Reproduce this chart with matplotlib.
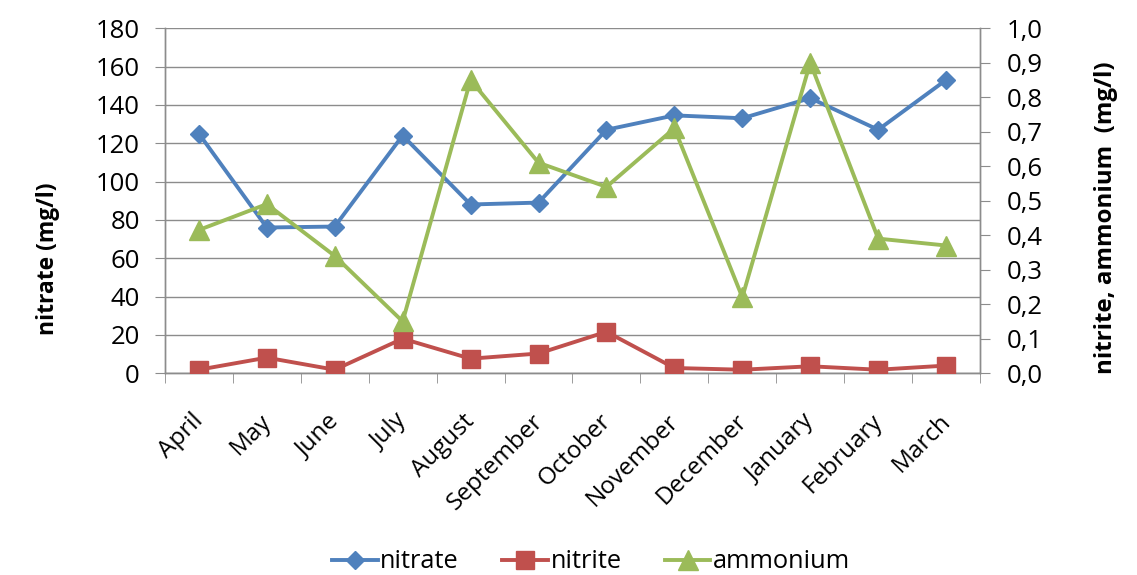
import matplotlib
matplotlib.use("Agg")
import matplotlib.pyplot as plt
from matplotlib.ticker import FixedLocator, FuncFormatter
from matplotlib.transforms import offset_copy
import numpy as np

months = ["April", "May", "June", "July", "August", "September", "October",
          "November", "December", "January", "February", "March"]
nitrate = [125, 76, 76.5, 124, 88, 89, 127, 134.5, 133, 143.5, 127, 153]
nitrite = [0.01, 0.045, 0.01, 0.10, 0.042, 0.057, 0.12, 0.015, 0.01, 0.02, 0.01, 0.022]
ammonium = [0.415, 0.49, 0.34, 0.15, 0.85, 0.61, 0.54, 0.71, 0.22, 0.90, 0.39, 0.37]

plt.rcParams['font.family'] = ['Open Sans', 'DejaVu Sans']

BLUE = "#4F81BD"
RED = "#C0504D"
GREEN = "#9BBB59"
GRID = "#8C8C8C"

fig = plt.figure(figsize=(11.37, 5.75), dpi=100)
ax = fig.add_axes([0.145, 0.351, 0.717, 0.600])
ax2 = ax.twinx()

x = np.arange(len(months))
l1, = ax.plot(x, nitrate, color=BLUE, lw=2.8, marker="D", ms=9.5, label="nitrate", zorder=3)
l2, = ax2.plot(x, nitrite, color=RED, lw=2.8, marker="s", ms=12.5, label="nitrite", zorder=3)
l3, = ax2.plot(x, ammonium, color=GREEN, lw=2.8, marker="^", ms=14, label="ammonium", zorder=4)

ax.set_xlim(-0.5, len(months) - 0.5)
ax.set_ylim(0, 180)
ax.set_yticks(np.arange(0, 181, 20))
ax2.set_ylim(0, 1.0)
ax2.set_yticks(np.arange(0, 1.01, 0.1))
ax2.yaxis.set_major_formatter(FuncFormatter(lambda v, p: f"{v:.1f}".replace(".", ",")))

ax.yaxis.grid(True, color=GRID, lw=1)
ax.set_axisbelow(True)

ax.set_xticks(x)
ax.set_xticklabels([])
ax.xaxis.set_minor_locator(FixedLocator(np.arange(-0.5, len(months), 1)))
ax.tick_params(axis="x", which="major", length=0)
ax.tick_params(axis="x", which="minor", length=7, color=GRID, direction="out")
ax.tick_params(axis="y", length=7, color=GRID, labelsize=18.5, pad=11)
ax2.tick_params(axis="y", length=7, color=GRID, labelsize=18.5, pad=12)

# month labels, rotated 45 degrees
trans = offset_copy(ax.get_xaxis_transform(), fig=fig, x=-5.5, y=-26, units="points")
for i, m in enumerate(months):
    ax.text(i, 0, m, transform=trans, rotation=45, rotation_mode="anchor",
            ha="right", va="top", fontsize=17.5)

for a in (ax, ax2):
    a.spines["top"].set_visible(False)
    for s in ("left", "right", "bottom"):
        a.spines[s].set_color(GRID)
        a.spines[s].set_linewidth(1)

ax.set_ylabel("nitrate (mg/l)", fontsize=16.5, fontweight="bold", va="center")
ax.yaxis.set_label_coords(-0.1436, 0.333)
ax2.set_ylabel("nitrite, ammonium  (mg/l)", fontsize=17.4, fontweight="bold", va="center")
ax2.yaxis.set_label_coords(1.1546, 0.452)

fig.legend(handles=[l1, l2, l3], loc="center", bbox_to_anchor=(591 / 1137, 1 - 562 / 575),
           ncol=3, frameon=False, fontsize=18.3, handlelength=1.8, columnspacing=1.7,
           handletextpad=0.1, borderpad=0, borderaxespad=0)

fig.savefig("out.png", dpi=100)
